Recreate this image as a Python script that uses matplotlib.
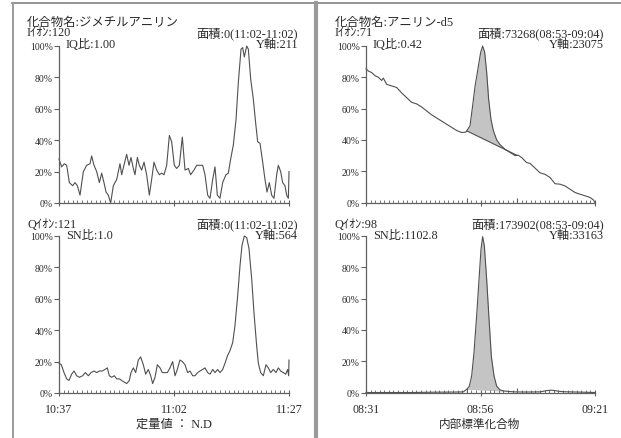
import numpy as np
import matplotlib
matplotlib.use('Agg')
import matplotlib.pyplot as plt
from matplotlib.lines import Line2D
from matplotlib.ticker import MultipleLocator

plt.rcParams['font.family'] = ['Liberation Serif', 'Noto Sans CJK JP']

# ---------------- data (minutes from start of window, % of max) ----------------
tl_t = [0, 0.58, 1.16, 1.67, 2.25, 2.97, 3.48, 3.99, 4.57, 5.29, 6.01, 6.74, 7.10, 7.61,
        8.19, 8.77, 9.28, 9.78, 10.22, 10.72, 11.23, 11.81, 12.54, 13.26, 13.62, 14.20,
        14.71, 15.22, 15.65, 16.16, 16.52, 17.03, 17.46, 17.97, 18.48, 19.06, 19.64, 20.14,
        20.65, 21.23, 21.81, 22.32, 22.83, 23.41, 23.99, 24.49, 25.07, 25.58, 26.16, 26.81,
        27.39, 28.12, 28.62, 29.35, 29.93, 30.65, 31.23, 31.74, 32.32, 32.83, 33.41, 33.91,
        34.42, 35.0, 35.58, 36.30, 36.81, 37.32, 37.90, 38.48, 38.99, 39.57, 39.93, 40.29,
        40.80, 41.16, 41.67, 42.25, 42.75, 43.19, 43.70, 44.28, 44.78, 45.22, 45.72, 46.23,
        46.74, 47.32, 47.68, 48.19, 48.62, 49.13, 49.49, 49.86, 50.0]
tl_v = [28, 23, 25, 24, 13, 11, 13, 11, 5, 20, 24, 25, 30, 24,
        20, 13, 19, 13, 7, 5, 0, 11, 15, 25, 18, 25,
        31, 24, 29, 22, 18, 29, 24, 21, 26, 18, 5, 15,
        26, 21, 18, 19, 18, 24, 43, 39, 24, 22, 24, 42,
        21, 22, 18, 21, 24, 24, 24, 18, 5, 3, 15, 23,
        5, 3, 13, 18, 19, 28, 37, 53, 77, 98, 99, 93,
        100, 98, 79, 66, 51, 39, 38, 26, 15, 7, 13, 5,
        3, 18, 24, 20, 13, 11, 5, 3, 20]

bl_t = [0, 0.51, 1.09, 1.67, 2.17, 2.75, 3.26, 3.84, 4.42, 5.14, 5.72, 6.38, 6.96, 7.61,
        8.19, 8.77, 9.42, 10.0, 10.51, 10.94, 11.45, 12.03, 12.54, 13.12, 13.62, 14.13,
        14.71, 15.29, 15.65, 16.16, 16.67, 17.25, 17.75, 18.33, 18.84, 19.42, 19.93, 20.36,
        20.87, 21.38, 21.96, 22.46, 23.04, 23.55, 24.13, 24.71, 25.22, 25.72, 26.30, 26.81,
        27.39, 27.97, 28.48, 29.06, 29.57, 30.14, 30.65, 31.23, 31.74, 32.32, 32.83, 33.41,
        33.91, 34.49, 35.0, 35.58, 36.09, 36.67, 37.17, 37.75, 38.26, 38.84, 39.35, 39.78,
        40.29, 40.80, 41.30, 41.88, 42.39, 42.97, 43.33, 43.84, 44.42, 45.0, 45.51, 46.01,
        46.59, 47.17, 47.68, 48.19, 48.77, 49.28, 49.71, 49.93, 50.0]
bl_v = [19, 18, 13, 9, 8, 12, 14, 11, 10, 11, 13, 11, 13, 14,
        13, 14, 14, 15, 16, 11, 10, 11, 9, 9, 8, 7,
        6, 8, 13, 16, 13, 21, 23, 18, 12, 15, 11, 6,
        10, 18, 16, 13, 13, 13, 16, 20, 11, 15, 21, 20,
        18, 13, 14, 11, 11, 13, 14, 15, 16, 13, 12, 15,
        13, 15, 13, 15, 19, 24, 27, 32, 43, 62, 81, 94,
        100, 99, 92, 73, 51, 30, 19, 13, 11, 18, 16, 13,
        15, 13, 16, 14, 13, 12, 15, 11, 21]

tr_t = [0, 0.51, 1.24, 1.97, 2.69, 3.42, 3.78, 4.51, 5.60, 6.70, 7.79, 8.88, 9.97, 11.06,
        12.15, 13.25, 14.34, 15.43, 16.52, 17.61, 18.70, 19.80, 20.89, 21.83, 22.71, 23.29,
        23.80, 24.53, 25.04, 25.47, 25.91, 26.35, 26.78, 27.29, 27.80, 28.53, 29.26, 30.35,
        31.44, 32.53, 33.26, 33.99, 35.08, 35.81, 36.90, 37.99, 39.08, 40.17, 41.27, 42.36,
        43.45, 44.54, 45.63, 46.72, 47.82, 48.91, 49.64, 50.0]
tr_v = [85.5, 84, 83, 81, 80, 78, 79.5, 75.5, 74.5, 73.5, 70, 67, 64, 63,
        61, 58.5, 56, 54, 52, 50, 48, 46, 44.7, 45, 49, 62,
        74, 87, 96, 100, 96, 83, 66, 53, 46, 40, 37, 34,
        32, 30, 30.2, 28.7, 25.5, 25, 22, 19, 18, 16, 12, 11.7,
        10.6, 8.5, 6.4, 5.3, 4.3, 3.2, 1.7, 0]

br_t = [0, 5, 10, 15, 20, 21.25, 21.98, 22.56, 23.07, 23.58, 24.16, 24.67, 25.11, 25.47,
        25.84, 26.35, 26.86, 27.37, 27.95, 28.53, 29.26, 29.99, 31.44, 32.53, 35.0, 38.0,
        39.45, 40.54, 41.63, 43.0, 46.0, 50.0]
br_v = [0, 0, 0, 0.2, 0.3, 0.4, 2, 4, 10.6, 25.5, 49, 72, 91.5, 99.6,
        93.6, 72, 47, 23, 10.6, 4, 1.7, 1, 0.6, 0.4, 0.3, 0.4,
        1.2, 1.5, 1.0, 0.5, 0.3, 0]

area_range = [22, 33]          # 08:53 - 09:04 on the right-hand windows
y_ticks = [0, 20, 40, 60, 80, 100]
y_labels = ["0%", "20%", "40%", "60%", "80%", "100%"]
left_xlabels = ["10:37", "11:02", "11:27"]
right_xlabels = ["08:31", "08:56", "09:21"]
x_major = [0, 25, 50]

panels = {
    "tl": dict(ion="Iｲｵﾝ:120", ratio="IQ比:1.00", area="面積:0(11:02-11:02)", yax="Y軸:211"),
    "bl": dict(ion="Qｲｵﾝ:121", ratio="SN比:1.0", area="面積:0(11:02-11:02)", yax="Y軸:564"),
    "tr": dict(ion="Iｲｵﾝ:71", ratio="IQ比:0.42", area="面積:73268(08:53-09:04)", yax="Y軸:23075"),
    "br": dict(ion="Qｲｵﾝ:98", ratio="SN比:1102.8", area="面積:173902(08:53-09:04)", yax="Y軸:33163"),
}
left_name = "化合物名:ジメチルアニリン"
right_name = "化合物名:アニリン-d5"
left_footer = "定量値 ： N.D"
right_footer = "内部標準化合物"

# ---------------- figure ----------------
W, H = 621, 439
DPI = 100
fig = plt.figure(figsize=(W / DPI, H / DPI), dpi=DPI)
fig.patch.set_facecolor('white')

TXT = '#2a2a2a'
LINE = '#505050'
AX = '#606060'


def px(x, y):
    return x / W, 1 - y / H


def add_ax(x0, x1, ytop, ybot):
    l, b = px(x0, ybot)
    ax = fig.add_axes([l, b, (x1 - x0) / W, (ybot - ytop) / H])
    ax.set_xlim(0, 50)
    ax.set_ylim(0, 100)
    for s in ('top', 'right'):
        ax.spines[s].set_visible(False)
    for s in ('left', 'bottom'):
        ax.spines[s].set_color(AX)
        ax.spines[s].set_linewidth(0.9)
    ax.set_yticks(y_ticks)
    ax.set_yticklabels(y_labels)
    ax.tick_params(axis='y', direction='out', length=3.6, width=0.8, color=AX,
                   pad=0.8, labelsize=7.0, labelcolor=TXT)
    ax.set_xticks(x_major)
    ax.xaxis.set_minor_locator(MultipleLocator(1))
    ax.tick_params(axis='x', which='major', direction='inout', length=5, width=0.8,
                   color=AX, pad=5, labelsize=8.6, labelcolor=TXT)
    ax.tick_params(axis='x', which='minor', direction='in', length=2.2, width=0.6, color=AX)
    ax.patch.set_alpha(0)
    return ax


ax_tl = add_ax(59, 289, 47, 204)
ax_bl = add_ax(59, 289, 237, 394)
ax_tr = add_ax(366, 595, 47, 203.5)
ax_br = add_ax(366, 595, 237, 393.5)

for ax in (ax_tl, ax_bl):
    ax.set_xticklabels([""] * 3)
ax_bl.set_xticklabels(left_xlabels)
for ax in (ax_tr, ax_br):
    ax.set_xticklabels([""] * 3)
ax_br.set_xticklabels(right_xlabels)

ax_tl.plot(tl_t, tl_v, color=LINE, lw=0.8, clip_on=False)
ax_bl.plot(bl_t, bl_v, color=LINE, lw=0.8, clip_on=False)


def peak(ax, t, v, baseline_line):
    t = np.asarray(t, float)
    v = np.asarray(v, float)
    a, b = area_range
    ya, yb = np.interp(a, t, v), np.interp(b, t, v)
    inside = (t > a) & (t < b)
    ft = np.concatenate([[a], t[inside], [b]])
    fv = np.concatenate([[ya], v[inside], [yb]])
    base = ya + (yb - ya) * (ft - a) / (b - a)
    ax.fill_between(ft, base, fv, color='#c4c4c4', lw=0)
    ax.plot(t, v, color=LINE, lw=0.8, clip_on=False)
    if baseline_line:
        ax.plot([a, b], [ya, yb], color=LINE, lw=0.8)
    ax.vlines(area_range, 0, 2.6, color=AX, lw=0.8)


peak(ax_tr, tr_t, tr_v, True)
peak(ax_br, br_t, br_v, False)

# ---------------- texts ----------------
def txt(x, y, s, size=8.8, ha='left'):
    fig.text(*px(x, y), s, ha=ha, va='center', fontsize=size, color=TXT)


txt(27, 23, left_name, size=8.9)
txt(335, 23, right_name, size=8.9)

for key, (xl, xr, yt) in {"tl": (27, 298, 0), "bl": (27, 298, 191),
                          "tr": (335, 604, 0), "br": (335, 604, 191)}.items():
    p = panels[key]
    rx = 66 if xl < 300 else 373
    txt(xl, 34 + yt, p["ion"])
    txt(rx, 45 + yt, p["ratio"])
    txt(xr, 34 + yt, p["area"], ha='right')
    txt(xr, 45 + yt, p["yax"], ha='right')

txt(174, 425, left_footer, size=8.8, ha='center')
txt(480, 425, right_footer, size=8.4, ha='center')

# ---------------- frame ----------------
def fline(x0, y0, x1, y1, lw, color):
    (a, b), (c, d) = px(x0, y0), px(x1, y1)
    fig.add_artist(Line2D([a, c], [b, d], lw=lw, color=color, transform=fig.transFigure))


fline(12, 4, 621, 4, 1.3, '#8a8a8a')
fline(13, 4, 13, 439, 1.4, '#9a9a9a')
fline(316, 4, 316, 439, 3.0, '#9a9a9a')

fig.savefig('out.png', dpi=DPI, facecolor='white')
